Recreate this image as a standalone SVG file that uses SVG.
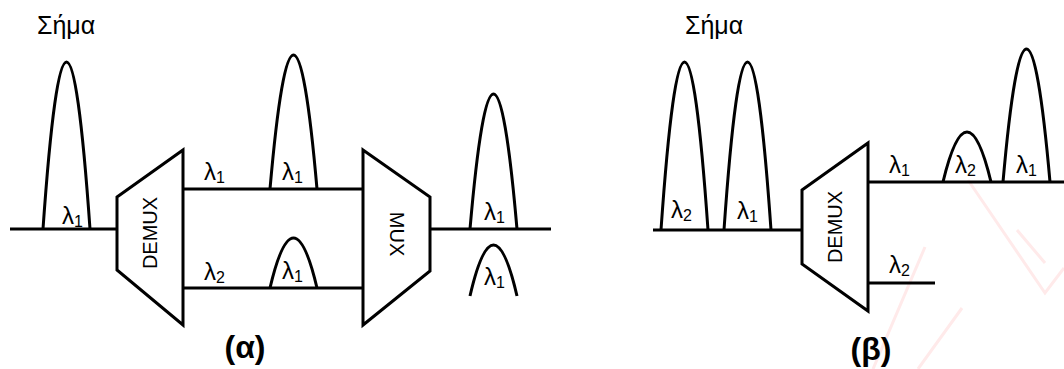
<svg xmlns="http://www.w3.org/2000/svg" width="1064" height="369" viewBox="0 0 1064 369">
<style>
.ln{fill:none;stroke:#000;stroke-width:3;stroke-linejoin:miter}
.box{fill:#fff;stroke:#000;stroke-width:3;stroke-linejoin:miter}
.lam{font-family:"Liberation Sans",Arial,sans-serif;font-size:24px;fill:#000}
.sub{font-size:16px}
.dev{font-family:"Liberation Sans",Arial,sans-serif;font-size:20px;fill:#000;text-anchor:middle;dominant-baseline:central}
.title{font-family:"Liberation Sans",Arial,sans-serif;font-size:25px;fill:#000}
.cap{font-family:"Liberation Sans",Arial,sans-serif;font-size:32px;font-weight:bold;fill:#000;text-anchor:middle}
.wm{fill:none;stroke:#ffeaea;stroke-width:3}
</style>
<g id="watermark">
<path class="wm" d="M873 369 L925 247 M918 369 L962 308 M968 180 L1045 293 L1064 268 M1017 230 L1045 263"/>
</g>
<g id="connectors">
<path class="ln" d="M10 229 H117"/>
<path class="ln" d="M183 189 H363"/>
<path class="ln" d="M183 288 H363"/>
<path class="ln" d="M430 229 H551"/>
<path class="ln" d="M653 230 H802"/>
<path class="ln" d="M868 182 H1064"/>
<path class="ln" d="M868 283 H935"/>
</g>
<g id="pulses-a">
<path class="ln" d="M43 229 Q66.5 -105 90 229"/>
<path class="ln" d="M270 189 Q293.5 -79 317 189"/>
<path class="ln" d="M270 288 Q293.5 188 317 288"/>
<path class="ln" d="M470 229 Q493.5 -41 517 229"/>
<path class="ln" d="M470 296 Q493.5 194 517 296"/>
</g>
<g id="pulses-b">
<path class="ln" d="M661 230 Q684.5 -106 708 230"/>
<path class="ln" d="M724 230 Q747.5 -106 771 230"/>
<path class="ln" d="M943 182 Q967 82 991 182"/>
<path class="ln" d="M1003 182 Q1026.5 -84 1050 182"/>
</g>
<g id="demux-a">
<polygon class="box" points="117,197 183,150 183,325 117,270"/>
<text class="dev" transform="translate(150,233) rotate(-90)">DEMUX</text>
</g>
<g id="mux-a">
<polygon class="box" points="363,150 430,197 430,271 363,325"/>
<text class="dev" transform="translate(397,234) rotate(90)">MUX</text>
</g>
<g id="demux-b">
<polygon class="box" points="802,190 868,143 868,311 802,264"/>
<text class="dev" transform="translate(835,227) rotate(-90)">DEMUX</text>
</g>
<g id="labels">
<text class="title" x="37" y="34">Σήμα</text>
<text class="title" x="685" y="34">Σήμα</text>
<text class="lam" x="62" y="224">λ<tspan class="sub" dy="3">1</tspan></text>
<text class="lam" x="204" y="180">λ<tspan class="sub" dy="3">1</tspan></text>
<text class="lam" x="282" y="180">λ<tspan class="sub" dy="3">1</tspan></text>
<text class="lam" x="204" y="280">λ<tspan class="sub" dy="3">2</tspan></text>
<text class="lam" x="282" y="279">λ<tspan class="sub" dy="3">1</tspan></text>
<text class="lam" x="484" y="220">λ<tspan class="sub" dy="3">1</tspan></text>
<text class="lam" x="484" y="285">λ<tspan class="sub" dy="3">1</tspan></text>
<text class="lam" x="671" y="218">λ<tspan class="sub" dy="3">2</tspan></text>
<text class="lam" x="737" y="219">λ<tspan class="sub" dy="3">1</tspan></text>
<text class="lam" x="889" y="173">λ<tspan class="sub" dy="3">1</tspan></text>
<text class="lam" x="955" y="173">λ<tspan class="sub" dy="3">2</tspan></text>
<text class="lam" x="1016" y="173">λ<tspan class="sub" dy="3">1</tspan></text>
<text class="lam" x="889" y="273">λ<tspan class="sub" dy="3">2</tspan></text>
<text class="cap" x="245" y="358">(α)</text>
<text class="cap" x="871" y="360">(β)</text>
</g>
</svg>
